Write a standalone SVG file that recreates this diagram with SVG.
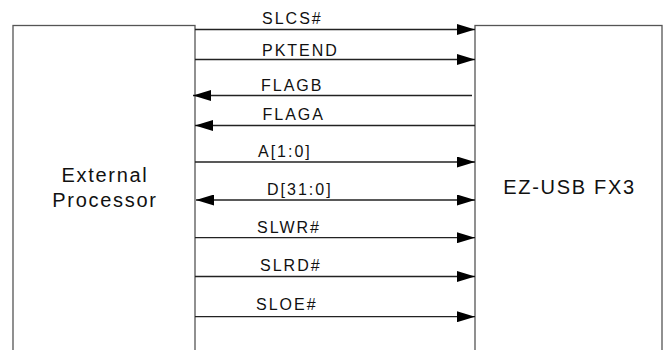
<svg xmlns="http://www.w3.org/2000/svg" width="664" height="350" viewBox="0 0 664 350">
<defs>
<style>
.box{fill:#fff;stroke:#555;stroke-width:1.3}
.w{stroke:#222;stroke-width:1.3;fill:none}
.lbl{font-family:"Liberation Sans",Arial,sans-serif;font-size:16px;letter-spacing:2px;fill:#111}
.big{font-family:"Liberation Sans",Arial,sans-serif;font-size:20px;letter-spacing:1.7px;fill:#111;text-anchor:middle}
</style>
<marker id="ah" markerUnits="userSpaceOnUse" markerWidth="18" markerHeight="11" refX="18" refY="5.5" orient="auto-start-reverse" viewBox="0 0 18 11">
<path d="M0,0 L18,5.5 L0,11 z" fill="#000"/>
</marker>
</defs>
<rect width="664" height="350" fill="#fff"/>
<g id="external-processor">
<rect class="box" x="13" y="25.5" width="182" height="340"/>
<text class="big" x="105" y="182">External</text>
<text class="big" x="105" y="207">Processor</text>
</g>
<g id="ez-usb-fx3">
<rect class="box" x="475" y="25.5" width="187" height="340"/>
<text class="big" x="569.5" y="194">EZ-USB FX3</text>
</g>
<g id="connectors">
<line class="w" x1="195" y1="29.5" x2="475" y2="29.5" marker-end="url(#ah)"/>
<text class="lbl" x="262" y="24">SLCS#</text>
<line class="w" x1="195" y1="59.5" x2="475" y2="59.5" marker-end="url(#ah)"/>
<text class="lbl" x="262" y="55.5">PKTEND</text>
<line class="w" x1="472" y1="95.5" x2="193" y2="95.5" marker-end="url(#ah)"/>
<text class="lbl" x="261" y="90.5">FLAGB</text>
<line class="w" x1="475" y1="125.5" x2="195" y2="125.5" marker-end="url(#ah)"/>
<text class="lbl" x="262.5" y="120">FLAGA</text>
<line class="w" x1="195" y1="162" x2="475" y2="162" marker-end="url(#ah)"/>
<text class="lbl" x="258" y="156.5">A[1:0]</text>
<line class="w" x1="196" y1="200" x2="475" y2="200" marker-start="url(#ah)" marker-end="url(#ah)"/>
<text class="lbl" x="267" y="194.5">D[31:0]</text>
<line class="w" x1="195" y1="237.7" x2="475" y2="237.7" marker-end="url(#ah)"/>
<text class="lbl" x="257" y="232.5">SLWR#</text>
<line class="w" x1="195" y1="276.5" x2="475" y2="276.5" marker-end="url(#ah)"/>
<text class="lbl" x="260" y="270.5">SLRD#</text>
<line class="w" x1="195" y1="316.7" x2="475" y2="316.7" marker-end="url(#ah)"/>
<text class="lbl" x="256" y="310">SLOE#</text>
</g>
</svg>
